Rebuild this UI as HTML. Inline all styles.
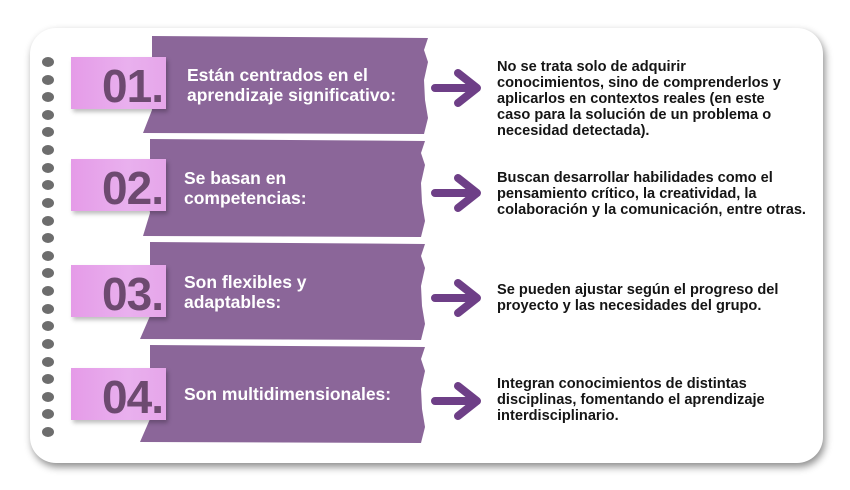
<!DOCTYPE html>
<html><head><meta charset="utf-8"><style>
body{margin:0;width:850px;height:490px;background:#fff;position:relative;overflow:hidden;font-family:"Liberation Sans",sans-serif}
.card{position:absolute;left:30px;top:28px;width:793px;height:435px;background:#fff;border-radius:26px;box-shadow:2px 4px 8px rgba(0,0,0,.45)}
.dot{position:absolute;left:42px;width:12px;height:10px;border-radius:50%;background:#6d6d6d}
.lab{position:absolute;left:71px;width:95px;height:52px;background:linear-gradient(90deg,#e59be8,#e9b0ee 60%,#e6a6ea);box-shadow:2px 3px 4px rgba(0,0,0,.25)}
.num{position:absolute;right:3px;top:2px;font-size:46px;font-weight:bold;color:#6d4a70;letter-spacing:-1px}
.bt{position:absolute;left:184px;color:#fff;font-size:17.5px;font-weight:bold;line-height:20px}
.rt{position:absolute;left:497px;color:#151515;font-size:14.6px;font-weight:bold;line-height:16px}
</style></head><body>
<div class="card"></div>
<svg style="position:absolute;left:0;top:0" width="850" height="490">
<g fill="#8b6699">
<path d="M152,36 L428,38 L424,50 L428,62 L424,80 L425,100 L428,118 L424,134 L143,133 L152,110 L148,80 L152,60 Z"/>
<path d="M150,139 L425,141 L421,153 L425,165 L421,183 L422,203 L425,221 L421,237 L143,236 L150,213 L146,183 L150,163 Z"/>
<path d="M150,242 L425,244 L421,256 L425,268 L421,286 L422,306 L425,324 L421,340 L140,339 L150,316 L146,286 L150,266 Z"/>
<path d="M150,345 L425,347 L421,359 L425,371 L421,389 L422,409 L425,427 L421,443 L140,442 L150,419 L146,389 L150,369 Z"/>
</g>
<g stroke="#6e3f87" stroke-width="8" stroke-linecap="round" stroke-linejoin="round" fill="none">
<path d="M435,88 H475 M458,73 L477,88 L458,103"/>
<path d="M435,193 H475 M458,178 L477,193 L458,208"/>
<path d="M435,298 H475 M458,283 L477,298 L458,313"/>
<path d="M435,401 H475 M458,386 L477,401 L458,416"/>
</g>
</svg>
<div class="dot" style="top:57px"></div><div class="dot" style="top:75px"></div><div class="dot" style="top:92px"></div><div class="dot" style="top:110px"></div><div class="dot" style="top:127px"></div><div class="dot" style="top:145px"></div><div class="dot" style="top:163px"></div><div class="dot" style="top:180px"></div><div class="dot" style="top:198px"></div><div class="dot" style="top:216px"></div><div class="dot" style="top:233px"></div><div class="dot" style="top:251px"></div><div class="dot" style="top:268px"></div><div class="dot" style="top:286px"></div><div class="dot" style="top:304px"></div><div class="dot" style="top:321px"></div><div class="dot" style="top:339px"></div><div class="dot" style="top:357px"></div><div class="dot" style="top:374px"></div><div class="dot" style="top:392px"></div><div class="dot" style="top:409px"></div><div class="dot" style="top:427px"></div>
<div class="lab" style="top:57px"><div class="num">01.</div></div>
<div class="lab" style="top:159px"><div class="num">02.</div></div>
<div class="lab" style="top:265px"><div class="num">03.</div></div>
<div class="lab" style="top:368px"><div class="num">04.</div></div>
<div class="bt" style="top:65px;left:187px">Están centrados en el<br>aprendizaje significativo:</div>
<div class="bt" style="top:168px">Se basan en<br>competencias:</div>
<div class="bt" style="top:272px">Son flexibles y<br>adaptables:</div>
<div class="bt" style="top:384px">Son multidimensionales:</div>
<div class="rt" style="top:59px">No se trata solo de adquirir<br>conocimientos, sino de comprenderlos y<br>aplicarlos en contextos reales (en este<br>caso para la solución de un problema o<br>necesidad detectada).</div>
<div class="rt" style="top:170px">Buscan desarrollar habilidades como el<br>pensamiento crítico, la creatividad, la<br>colaboración y la comunicación, entre otras.</div>
<div class="rt" style="top:282px">Se pueden ajustar según el progreso del<br>proyecto y las necesidades del grupo.</div>
<div class="rt" style="top:376px">Integran conocimientos de distintas<br>disciplinas, fomentando el aprendizaje<br>interdisciplinario.</div>
</body></html>
